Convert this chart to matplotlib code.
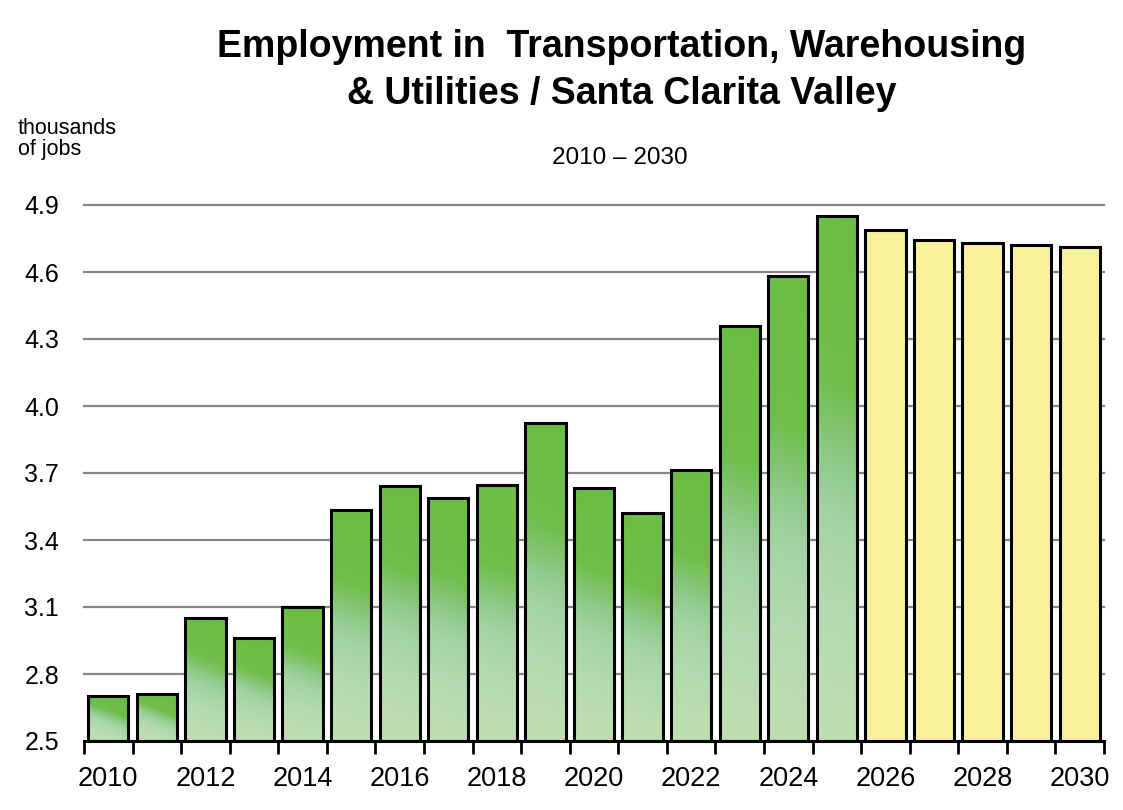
import numpy as np
import matplotlib
matplotlib.use("Agg")
import matplotlib.pyplot as plt
from matplotlib.colors import LinearSegmentedColormap
from matplotlib.patches import Rectangle

years = list(range(2010, 2031))
jobs = [2.70, 2.71, 3.05, 2.96, 3.10, 3.535, 3.64, 3.59, 3.645, 3.925, 3.635,
        3.52, 3.715, 4.357, 4.58, 4.852, 4.79, 4.745, 4.73, 4.722, 4.713]
forecast_from = 2026
yticks = [2.5, 2.8, 3.1, 3.4, 3.7, 4.0, 4.3, 4.6, 4.9]
xlabels = [str(y) for y in range(2010, 2031, 2)]

FONT = ["Liberation Sans", "DejaVu Sans"]
plt.rcParams["font.family"] = FONT

W, H = 1123, 810
fig = plt.figure(figsize=(W / 100, H / 100), dpi=100)
ax_l, ax_r, ax_b, ax_t = 84, 1104, 741, 205
ax = fig.add_axes([ax_l / W, (H - ax_b) / H, (ax_r - ax_l) / W, (ax_b - ax_t) / H])

ymin, ymax = 2.5, 4.9
ax.set_xlim(-0.5, len(years) - 0.5)
ax.set_ylim(ymin, ymax)

green_cmap = LinearSegmentedColormap.from_list(
    "actual",
    [(0.0, "#c0dfb1"), (0.25, "#b3dab0"), (0.42, "#a3d4a4"),
     (0.52, "#92cb8d"), (0.60, "#80c46c"), (0.68, "#71be4c"), (1.0, "#6cbd43")])
yellow = "#f8f29d"
bar_w = 0.83

px_per_unit_x = (ax_r - ax_l) / len(years)
px_per_unit_y = (ax_b - ax_t) / (ymax - ymin)

u = np.linspace(0, 1, 40)
v = np.linspace(0, 1, 300)
U, V = np.meshgrid(u, v)

for i, (yr, val) in enumerate(zip(years, jobs)):
    x0 = i - bar_w / 2
    if yr < forecast_from:
        # shading tilts more on short bars
        w_px = bar_w * px_per_unit_x
        h_px = (val - ymin) * px_per_unit_y
        k = min(0.7, 0.4 * w_px / h_px)
        grad = np.clip(V + k * (U - 0.5), 0, 1)
        clip = Rectangle((x0, ymin), bar_w, val - ymin, transform=ax.transData)
        im = ax.imshow(grad, cmap=green_cmap, origin="lower", aspect="auto",
                       extent=[x0, x0 + bar_w, ymin, val], vmin=0, vmax=1,
                       interpolation="bilinear", zorder=3)
        im.set_clip_path(clip)
    else:
        ax.add_patch(Rectangle((x0, ymin), bar_w, val - ymin,
                               facecolor=yellow, edgecolor="none", zorder=3))
    ax.add_patch(Rectangle((x0, ymin), bar_w, val - ymin, facecolor="none",
                           edgecolor="black", linewidth=2.2, zorder=4))

ax.set_xlim(-0.5, len(years) - 0.5)
ax.set_ylim(ymin, ymax)

# horizontal gridlines
for yt in yticks[1:]:
    ax.axhline(yt, color="#878787", linewidth=1.6, zorder=2, clip_on=False)

for side in ("left", "right", "top"):
    ax.spines[side].set_visible(False)
ax.spines["bottom"].set_linewidth(2.2)
ax.spines["bottom"].set_zorder(5)

ax.set_yticks(yticks)
ax.set_yticklabels([f"{t:.1f}" for t in yticks], fontsize=18)
ax.tick_params(axis="y", length=0, pad=18)

ax.set_xticks(range(0, len(years), 2))
ax.set_xticklabels(xlabels, fontsize=19.5)
ax.set_xticks(np.arange(-0.5, len(years)), minor=True)
ax.tick_params(axis="x", which="major", length=0, pad=18)
ax.tick_params(axis="x", which="minor", length=9, width=2, direction="out")

fig.text(622 / W, 1 - 47 / H, "Employment in  Transportation, Warehousing",
         ha="center", va="center", fontsize=27, fontweight="bold")
fig.text(622 / W, 1 - 94 / H, "& Utilities / Santa Clarita Valley",
         ha="center", va="center", fontsize=27, fontweight="bold")
fig.text(620 / W, 1 - 158 / H, "2010 \u2013 2030", ha="center", va="center",
         fontsize=17.5)
fig.text(18 / W, 1 - 139 / H, "thousands\nof jobs", ha="left", va="center",
         fontsize=15.5, linespacing=0.95)

fig.savefig("out.png", dpi=100, facecolor="white")
